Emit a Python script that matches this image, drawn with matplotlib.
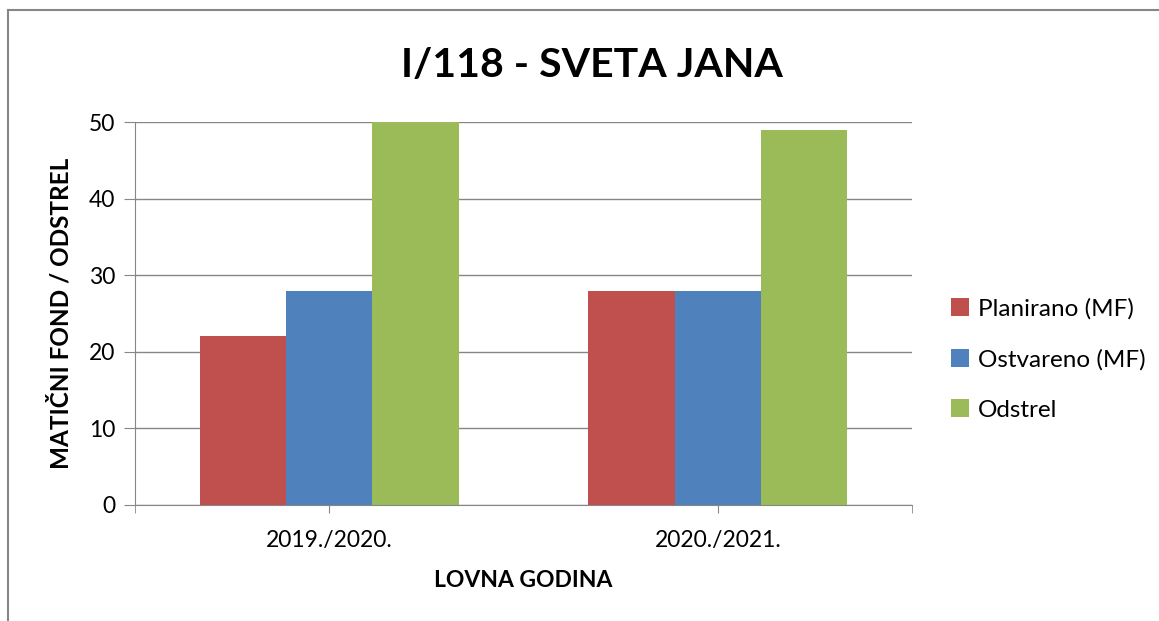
import numpy as np
from matplotlib import pyplot as plt
from matplotlib.lines import Line2D

plt.rcParams['font.family'] = ['Lato', 'DejaVu Sans']

godine = ["2019./2020.", "2020./2021."]
planirano = [22, 28]
ostvareno = [28, 28]
odstrel = [50, 49]

serije = ["Planirano (MF)", "Ostvareno (MF)", "Odstrel"]
boje = ["#C0504D", "#4F81BD", "#9BBB59"]

fig = plt.figure(figsize=(11.59, 6.21), dpi=100)
ax = fig.add_axes([0.1165, 0.1868, 0.6705, 0.6167])

x = np.arange(len(godine))
w = 0.222
for i, (vals, naziv, boja) in enumerate(zip([planirano, ostvareno, odstrel], serije, boje)):
    ax.bar(x + (i - 1) * w, vals, width=w, color=boja, label=naziv, zorder=2)

ax.set_xlim(-0.5, 1.5)
ax.set_ylim(0, 50)
ax.set_yticks(range(0, 51, 10))
ax.set_xticks(x)
ax.set_xticklabels(godine, fontsize=16.5)
ax.set_xticks([-0.5, 1.5], minor=True)
ax.tick_params(axis='y', labelsize=16.5, length=8, color='#868686', pad=6)
ax.tick_params(axis='x', which='both', length=6, color='#868686', pad=12)
ax.grid(axis='y', color='#868686', linewidth=1, zorder=0)
for s in ['top', 'right']:
    ax.spines[s].set_visible(False)
for s in ['left', 'bottom']:
    ax.spines[s].set_color('#868686')

ax.set_xlabel('LOVNA GODINA', fontsize=16.5, fontweight='bold', labelpad=14)
ax.set_ylabel('MATIČNI FOND / ODSTREL', fontsize=17.5, fontweight='bold', labelpad=12)

fig.text(0.511, 0.895, 'I/118 - SVETA JANA', ha='center', va='center',
         fontsize=29.5, fontweight='bold')

ax.legend(loc='center left', bbox_to_anchor=(1.022, 0.38), frameon=False,
          fontsize=17.5, handlelength=0.75, handleheight=0.75, handletextpad=0.35,
          labelspacing=1.2)

fig.add_artist(Line2D([8 / 1159, 1], [1 - 10 / 621] * 2, transform=fig.transFigure,
                      color='#868686', linewidth=1.5))
fig.add_artist(Line2D([8 / 1159] * 2, [0, 1 - 10 / 621], transform=fig.transFigure,
                      color='#868686', linewidth=1.5))

fig.savefig('out.png', dpi=100)
